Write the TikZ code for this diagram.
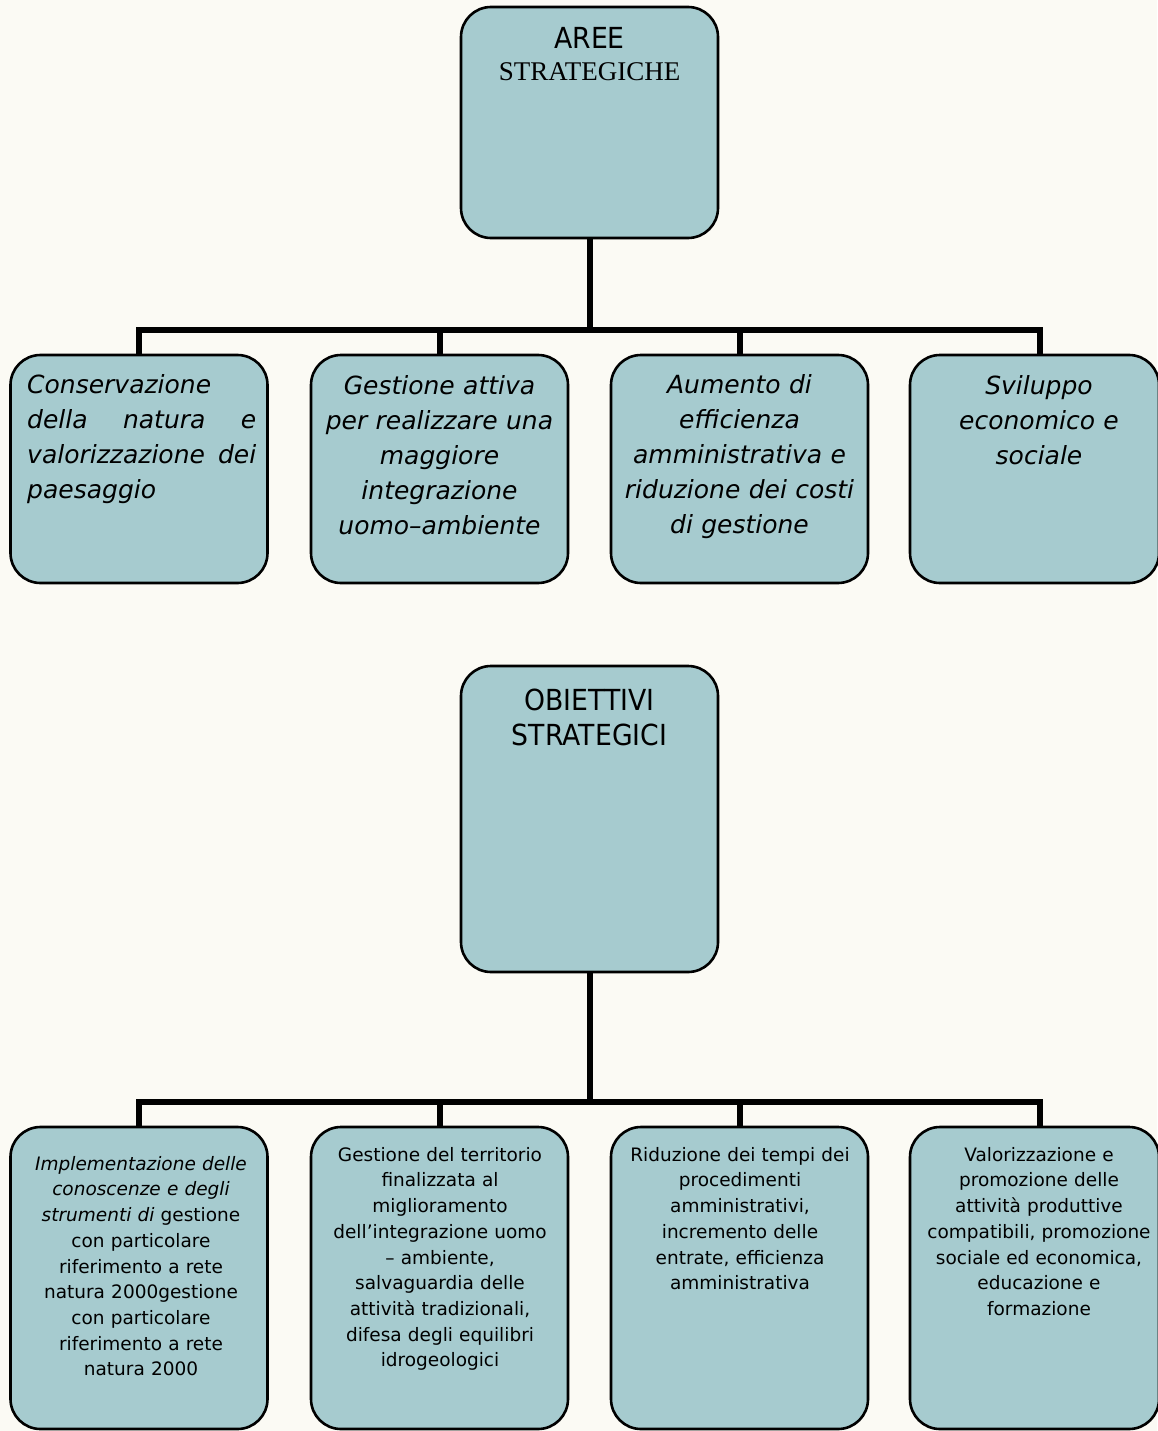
\documentclass[tikz,border=0pt]{standalone}
\usepackage{fontspec}
\setmainfont{DejaVu Sans}
\newfontfamily\verd{DejaVu Sans}
\newfontfamily\tah{DejaVu Sans}
\newfontfamily\tahcaps[FakeStretch=0.92]{DejaVu Sans}
\newfontfamily\timesf{Liberation Serif}
\definecolor{boxfill}{RGB}{166,203,207}
\definecolor{paper}{RGB}{251,250,244}
\begin{document}
\begin{tikzpicture}[x=1pt,y=-1pt,
  box/.style={draw=black, line width=2.6pt, fill=boxfill, rounded corners=30pt, inner sep=0pt, minimum width=257pt},
  conn/.style={draw=black, line width=6pt},
  lvtwo/.style={inner sep=0pt, anchor=north, font=\verd\itshape\fontsize{25}{35}\selectfont, align=center, text width=250pt},
  lvthree/.style={inner sep=0pt, anchor=north, font=\tah\fontsize{18.5}{25.7}\selectfont, align=center, text width=250pt},
  headsans/.style={inner sep=0pt, anchor=base, font=\tahcaps\fontsize{29}{35}\selectfont},
  headserif/.style={inner sep=0pt, anchor=base, font=\timesf\fontsize{27}{32}\selectfont}
]
\fill[paper] (0,0) rectangle (1157,1431);
\useasboundingbox (0,0) rectangle (1157,1431);

% ---------- upper tree ----------
\node[box, minimum height=231pt] (top) at (589.5,122.5) {};
\node[headsans] (toptxta) at (589.5,49) {AREE};
\node[headserif] (toptxtb) at (589.5,81) {STRATEGICHE};

\node[box, minimum height=228pt] (a1) at (139,469) {};
\node[box, minimum height=228pt] (a2) at (439.5,469) {};
\node[box, minimum height=228pt] (a3) at (739.5,469) {};
\node[box, minimum height=228pt, minimum width=249pt] (a4) at (1034.5,469) {};

\coordinate (j1) at (589.5,330);
\coordinate (d4) at ([xshift=5.5pt]a4.north);
\draw[conn] (top.south) -- (j1);
\draw[conn] (a1.north) -- (a1.north |- j1) -- (d4 |- j1) -- (d4);
\draw[conn] (a2.north) -- (a2.north |- j1);
\draw[conn] (a3.north) -- (a3.north |- j1);

\node[lvtwo, anchor=north west, align=left, text width=229pt] (t1) at (27,368)
  {\rule{0pt}{25pt}Conservazione\\della\hfill natura\hfill e\\valorizzazione\hfill dei\\paesaggio};
\node[lvtwo] (t2) at (439.5,369)
  {\rule{0pt}{25pt}Gestione attiva\\per realizzare una\\maggiore\\integrazione\\uomo–ambiente};
\node[lvtwo] (t3) at (739.5,368)
  {\rule{0pt}{25pt}Aumento di\\efficienza\\amministrativa e\\riduzione dei costi\\di gestione};
\node[lvtwo] (t4) at (1039,369)
  {\rule{0pt}{25pt}Sviluppo\\economico e\\sociale};

% ---------- lower tree ----------
\node[box, minimum height=306pt] (mid) at (589.5,819) {};
\node[headsans] (midtxta) at (589.5,710) {OBIETTIVI};
\node[headsans] (midtxtb) at (589.5,745) {STRATEGICI};

\node[box, minimum height=302pt] (b1) at (139,1278) {};
\node[box, minimum height=302pt] (b2) at (439.5,1278) {};
\node[box, minimum height=302pt] (b3) at (739.5,1278) {};
\node[box, minimum height=302pt, minimum width=249pt] (b4) at (1034.5,1278) {};

\coordinate (j2) at (589.5,1102);
\coordinate (e4) at ([xshift=5.5pt]b4.north);
\draw[conn] (mid.south) -- (j2);
\draw[conn] (b1.north) -- (b1.north |- j2) -- (e4 |- j2) -- (e4);
\draw[conn] (b2.north) -- (b2.north |- j2);
\draw[conn] (b3.north) -- (b3.north |- j2);

\node[lvthree] (u1) at (141,1151)
  {\rule{0pt}{19pt}\textit{Implementazione delle}\\\textit{conoscenze e degli}\\\textit{strumenti di} gestione\\con particolare\\riferimento a rete\\natura 2000gestione\\con particolare\\riferimento a rete\\natura 2000};
\node[lvthree] (u2) at (440,1142)
  {\rule{0pt}{19pt}Gestione del territorio\\finalizzata al\\miglioramento\\dell’integrazione uomo\\– ambiente,\\salvaguardia delle\\attività tradizionali,\\difesa degli equilibri\\idrogeologici};
\node[lvthree] (u3) at (740,1142)
  {\rule{0pt}{19pt}Riduzione dei tempi dei\\procedimenti\\amministrativi,\\incremento delle\\entrate, efficienza\\amministrativa};
\node[lvthree] (u4) at (1039,1142)
  {\rule{0pt}{19pt}Valorizzazione e\\promozione delle\\attività produttive\\compatibili, promozione\\sociale ed economica,\\educazione e\\formazione};
\end{tikzpicture}
\end{document}
